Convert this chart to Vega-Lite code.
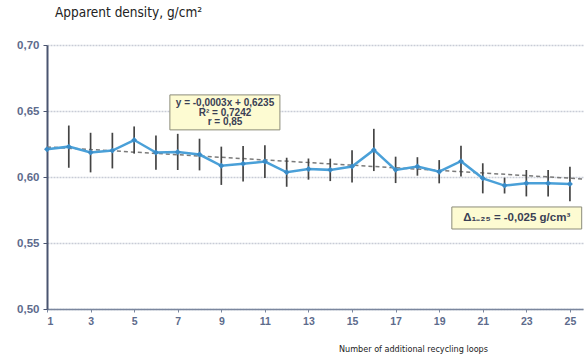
{
  "$schema": "https://vega.github.io/schema/vega-lite/v6.json",
  "width": 536,
  "height": 264,
  "autosize": {"type": "none"},
  "padding": {"left": 47, "top": 45, "right": 1, "bottom": 49},
  "background": "white",
  "title": {"text": "Apparent density, g/cm²", "anchor": "start", "frame": "group", "offset": 20, "dx": 8, "fontSize": 13.5, "fontWeight": "normal", "font": "DejaVu Sans Condensed, Liberation Sans Narrow, Liberation Sans, sans-serif", "color": "#222"},
  "config": {
    "view": {"stroke": null},
    "axis": {"labelFont": "Liberation Sans, sans-serif", "labelFontWeight": "bold", "labelColor": "#5d6b8c"}
  },
  "datasets": {
    "pts": [
      {"loop": 1, "density": 0.621, "lo": 0.621, "hi": 0.621},
      {"loop": 2, "density": 0.623, "lo": 0.607, "hi": 0.639},
      {"loop": 3, "density": 0.6185, "lo": 0.6035, "hi": 0.6335},
      {"loop": 4, "density": 0.620, "lo": 0.6065, "hi": 0.6335},
      {"loop": 5, "density": 0.628, "lo": 0.6177, "hi": 0.6383},
      {"loop": 6, "density": 0.6185, "lo": 0.6055, "hi": 0.6315},
      {"loop": 7, "density": 0.619, "lo": 0.6053, "hi": 0.6327},
      {"loop": 8, "density": 0.617, "lo": 0.605, "hi": 0.629},
      {"loop": 9, "density": 0.6085, "lo": 0.594, "hi": 0.623},
      {"loop": 10, "density": 0.610, "lo": 0.5965, "hi": 0.6235},
      {"loop": 11, "density": 0.6117, "lo": 0.5993, "hi": 0.6241},
      {"loop": 12, "density": 0.6036, "lo": 0.5926, "hi": 0.6146},
      {"loop": 13, "density": 0.606, "lo": 0.598, "hi": 0.614},
      {"loop": 14, "density": 0.6054, "lo": 0.5969, "hi": 0.6139},
      {"loop": 15, "density": 0.608, "lo": 0.5958, "hi": 0.6202},
      {"loop": 16, "density": 0.6205, "lo": 0.6045, "hi": 0.6365},
      {"loop": 17, "density": 0.6054, "lo": 0.5954, "hi": 0.6154},
      {"loop": 18, "density": 0.608, "lo": 0.601, "hi": 0.615},
      {"loop": 19, "density": 0.604, "lo": 0.5952, "hi": 0.6128},
      {"loop": 20, "density": 0.612, "lo": 0.6004, "hi": 0.6236},
      {"loop": 21, "density": 0.599, "lo": 0.5876, "hi": 0.6104},
      {"loop": 22, "density": 0.5935, "lo": 0.5875, "hi": 0.5995},
      {"loop": 23, "density": 0.5953, "lo": 0.5853, "hi": 0.6053},
      {"loop": 24, "density": 0.5953, "lo": 0.5853, "hi": 0.6053},
      {"loop": 25, "density": 0.5947, "lo": 0.5817, "hi": 0.6077}
    ],
    "trend": [
      {"loop": 1, "density": 0.6228},
      {"loop": 25.6, "density": 0.5985}
    ],
    "boxes": [
      {"x1": 6.64, "x2": 11.69, "y1": 0.6357, "y2": 0.6622},
      {"x1": 19.58, "x2": 25.54, "y1": 0.5606, "y2": 0.5773}
    ],
    "notes": [
      {"loop": 9.17, "density": 0.6557, "label": "y = -0,0003x + 0,6235", "size": 10},
      {"loop": 9.17, "density": 0.6485, "label": "R² = 0,7242", "size": 10},
      {"loop": 9.17, "density": 0.6413, "label": "r = 0,85", "size": 10},
      {"loop": 22.56, "density": 0.5688, "label": "Δ₁₋₂₅ = -0,025 g/cm³", "size": 11.5}
    ]
  },
  "layer": [
    {
      "data": {"name": "trend"},
      "mark": {"type": "line", "color": "#7a7a7a", "strokeDash": [4, 3], "strokeWidth": 1.5},
      "encoding": {
        "x": {"field": "loop", "type": "quantitative", "scale": {"domain": [1, 25.6], "nice": false, "zero": false},
          "axis": {"values": [1, 3, 5, 7, 9, 11, 13, 15, 17, 19, 21, 23, 25], "title": "Number of additional recycling loops",
            "titleFont": "DejaVu Sans Condensed, Liberation Sans Narrow, Liberation Sans, sans-serif", "titleFontSize": 9, "titleFontWeight": "normal", "titleColor": "#222",
            "titleX": 366, "titleY": 44, "titleAlign": "center", "titleBaseline": "bottom",
            "labelFontSize": 10.5,
            "grid": false, "domainColor": "#7a869e", "domainWidth": 1.5, "tickColor": "#7a869e", "tickSize": 3, "labelPadding": 4}},
        "y": {"field": "density", "type": "quantitative", "scale": {"domain": [0.5, 0.7], "nice": false, "zero": false},
          "axis": {"values": [0.5, 0.55, 0.6, 0.65, 0.7], "format": ".2f", "formatType": "number", "labelExpr": "replace(datum.label, '.', ',')", "title": null,
            "labelFontSize": 11.5,
            "grid": true, "gridColor": "#c8ccd6", "gridWidth": 1.5, "gridDash": [2, 1],
            "domainColor": "#4a5570", "domainWidth": 2, "tickColor": "#4a5570", "tickSize": 4, "labelPadding": 4}}
      }
    },
    {
      "data": {"name": "pts"},
      "mark": {"type": "rule", "color": "#444444", "strokeWidth": 1.7},
      "encoding": {
        "x": {"field": "loop", "type": "quantitative"},
        "y": {"field": "lo", "type": "quantitative"},
        "y2": {"field": "hi"}
      }
    },
    {
      "data": {"name": "pts"},
      "mark": {"type": "line", "color": "#4aa0d8", "strokeWidth": 2.5},
      "encoding": {
        "x": {"field": "loop", "type": "quantitative"},
        "y": {"field": "density", "type": "quantitative"}
      }
    },
    {
      "data": {"name": "pts"},
      "mark": {"type": "point", "shape": "diamond", "filled": true, "color": "#3a8cc8", "size": 35, "opacity": 1},
      "encoding": {
        "x": {"field": "loop", "type": "quantitative"},
        "y": {"field": "density", "type": "quantitative"}
      }
    },
    {
      "data": {"name": "boxes"},
      "mark": {"type": "rect", "fill": "#fdfbd2", "stroke": "#8c8c7a", "strokeWidth": 1, "clip": false},
      "encoding": {
        "x": {"field": "x1", "type": "quantitative"},
        "x2": {"field": "x2"},
        "y": {"field": "y1", "type": "quantitative"},
        "y2": {"field": "y2"}
      }
    },
    {
      "data": {"name": "notes"},
      "mark": {"type": "text", "font": "Liberation Sans, sans-serif", "fontWeight": "bold", "color": "#3a3f55", "align": "center", "baseline": "middle"},
      "encoding": {
        "x": {"field": "loop", "type": "quantitative"},
        "y": {"field": "density", "type": "quantitative"},
        "text": {"field": "label"},
        "size": {"field": "size", "type": "quantitative", "scale": null}
      }
    }
  ]
}
